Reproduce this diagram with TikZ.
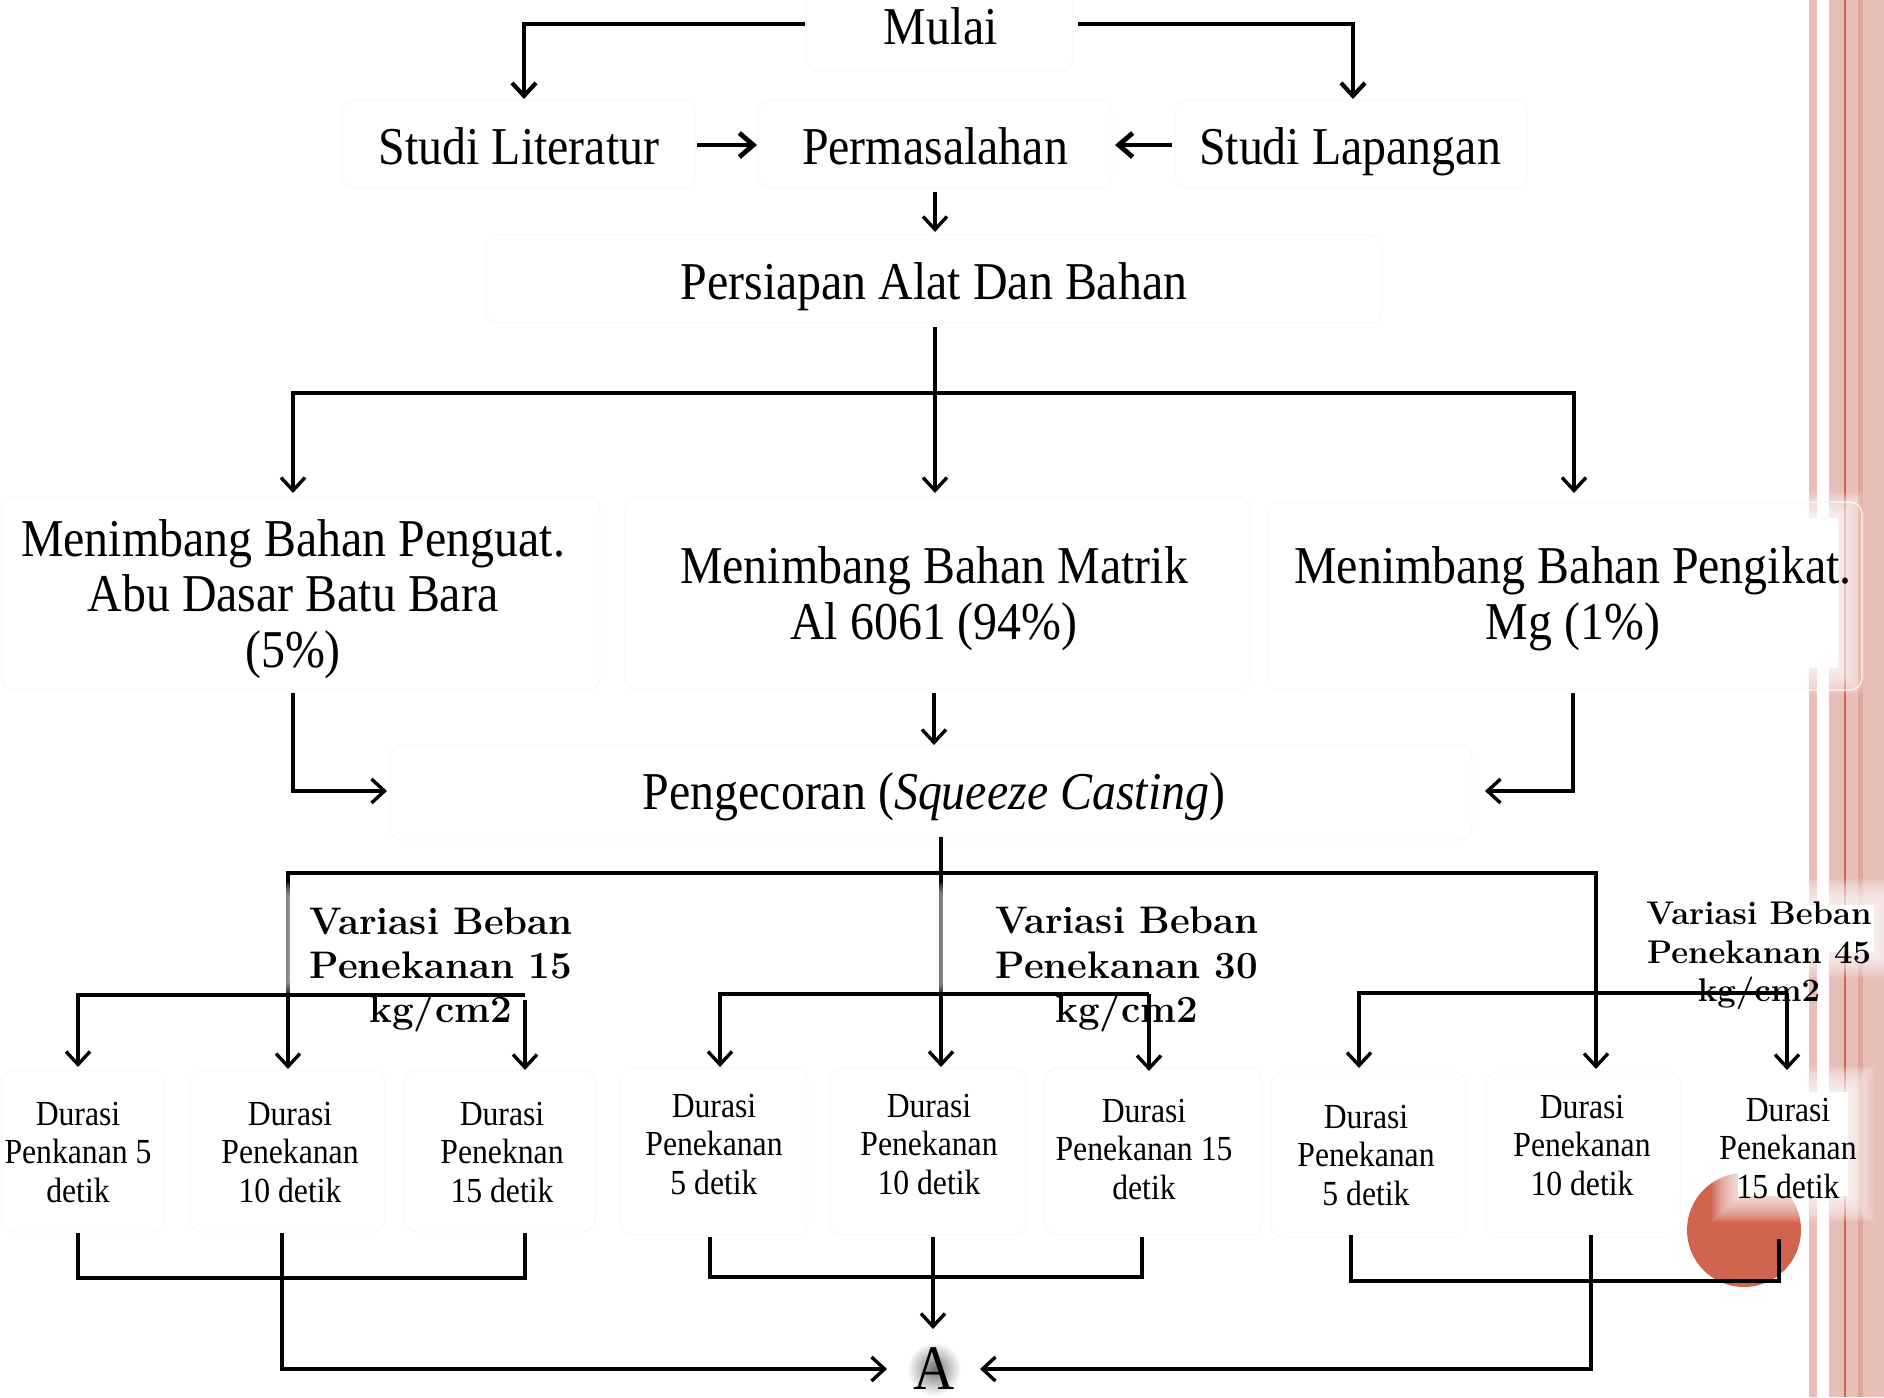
\documentclass[tikz,border=0pt]{standalone}
\usepackage{fontspec}
\newfontfamily\tnr[FakeStretch=0.9]{Liberation Serif}
\usetikzlibrary{arrows.meta}
\definecolor{stripe}{RGB}{231,190,184}
\definecolor{stripedark}{RGB}{221,166,156}
\definecolor{stripered}{RGB}{208,98,76}
\definecolor{ball}{RGB}{209,100,78}
\newcommand{\softglow}[4]{%
  \foreach \k in {26,24,...,2}{\fill[white,opacity=0.1] ({#1-\k},{#2-\k}) rectangle ({#3+\k},{#4+\k});}%
  \fill[white] (#1,#2) rectangle (#3,#4);}
\newcommand{\durlab}[6]{%
  \node[dur] (#1a) at ({#2},{#3}) {#4};
  \node[dur] (#1b) at ({#2},{#3+38.5}) {#5};
  \node[dur] (#1c) at ({#2},{#3+77}) {#6};}
\begin{document}
\begin{tikzpicture}[x=0.5pt,y=-0.5pt,
  txt/.style={anchor=base,inner sep=0pt,font=\tnr\fontsize{26.6}{30}\selectfont},
  dur/.style={anchor=base,inner sep=0pt,font=\tnr\fontsize{17.6}{20}\selectfont},
  vbig/.style={anchor=base,inner sep=0pt,font=\bfseries\fontsize{19.2}{22}\selectfont},
  vsmall/.style={anchor=base,inner sep=0pt,font=\bfseries\fontsize{16.4}{19}\selectfont},
  ln/.style={line width=1.7pt},
  ar/.style={line width=1.7pt,-{Straight Barb[length=6.5pt,width=12pt]}},
  arb/.style={line width=2.4pt,-{Straight Barb[length=7pt,width=12pt]}},
  fbox/.style={draw=black!2.5,line width=0.6pt,rounded corners=6pt}]
\useasboundingbox (0,0) rectangle (1884,1397);
\fill[white] (0,0) rectangle (1884,1397);
% decorative stripes
\fill[stripe] (1809,0) rectangle (1817,1397);
\fill[stripe] (1829,0) rectangle (1884,1397);
\fill[stripedark] (1858,0) rectangle (1863,1397);
\fill[stripered] (1843.5,0) rectangle (1846,1397);
% red ball
\fill[ball] (1744,1230) circle [radius=28.5pt];
% faint boxes
\draw[fbox] (806,-20) rectangle (1073,70);
\draw[fbox] (342,100) rectangle (695,188);
\draw[fbox] (758,100) rectangle (1112,188);
\draw[fbox] (1175,100) rectangle (1527,188);
\draw[fbox] (486,235) rectangle (1382,323);
\draw[fbox] (2,497) rectangle (600,690);
\draw[fbox] (625,497) rectangle (1250,690);
\draw[fbox] (1267,502) rectangle (1862,690);
\draw[fbox] (390,745) rectangle (1472,840);
\draw[fbox] (2,1070) rectangle (165,1232);
\draw[fbox] (190,1070) rectangle (385,1232);
\draw[fbox] (405,1070) rectangle (595,1232);
\draw[fbox] (620,1068) rectangle (808,1235);
\draw[fbox] (830,1068) rectangle (1026,1235);
\draw[fbox] (1045,1068) rectangle (1262,1235);
\draw[fbox] (1271,1072) rectangle (1466,1237);
\draw[fbox] (1486,1072) rectangle (1681,1237);
% A halo
\shade[inner color=black!55,outer color=white] (934,1369) circle [radius=13.5pt];

% coordinates
\coordinate (mL) at (805,24);
\coordinate (mR) at (1078,24);
\coordinate (litT) at (524,99);
\coordinate (lapT) at (1353,99);
\coordinate (litE) at (697,145);
\coordinate (permW) at (757,145);
\coordinate (lapW) at (1172,145);
\coordinate (permE) at (1115,145);
\coordinate (permS) at (935,192);
\coordinate (prsN) at (935,232);
\coordinate (prsS) at (935,327);
\coordinate (hub1) at (935,393);
\coordinate (mnlN) at (293,493);
\coordinate (mnmN) at (935,493);
\coordinate (mnrN) at (1574,493);
\coordinate (mnlS) at (293,693);
\coordinate (pengW) at (387,791);
\coordinate (mnmS) at (934,693);
\coordinate (pengN) at (934,745);
\coordinate (mnrS) at (1573,693);
\coordinate (pengE) at (1485,791);
\coordinate (pengS) at (941,837);
\coordinate (hub2) at (941,873);
\coordinate (g1N) at (288,1069);
\coordinate (g2N) at (941,1067);
\coordinate (g3N) at (1596,1069);

% upper connectors
\draw[ar,line width=2.1pt] (mL) -| (litT);
\draw[ar,line width=2.1pt] (mR) -| (lapT);
\draw[arb] (litE) -- (permW);
\draw[arb] (lapW) -- (permE);
\draw[ar] (permS) -- (prsN);
\draw[ar] (prsS) -- (mnmN);
\draw[ar] (hub1) -| (mnlN);
\draw[ar] (hub1) -| (mnrN);
\draw[ar] (mnlS) |- (pengW);
\draw[ar] (mnmS) -- (pengN);
\draw[ar] (mnrS) |- (pengE);
\draw[ar] (pengS) -- (g2N);
\draw[ar] (hub2) -| (g1N);
\draw[ar] (hub2) -| (g3N);

% text glows
\softglow{1290}{518}{1838}{668}
\softglow{300}{908}{585}{970}
\softglow{955}{908}{1268}{970}
\softglow{1652}{905}{1874}{952}
\softglow{1738}{1092}{1848}{1196}

% group connectors
\coordinate (g1R) at (525,995);
\coordinate (g1Rt) at (525,1000);
\coordinate (g1aN) at (78,1067);
\coordinate (g1cN) at (525,1070);
\coordinate (g2R) at (1149,994);
\coordinate (g2aN) at (720,1067);
\coordinate (g2cN) at (1149,1071);
\coordinate (g3R) at (1787,993);
\coordinate (g3aN) at (1359,1068);
\coordinate (g3cN) at (1787,1070);
\draw[ar] (g1R) -| (g1aN);
\draw[ar] (g1Rt) -- (g1cN);
\draw[ar] (g2R) -| (g2aN);
\draw[ar] (g2R) -- (g2cN);
\draw[ar] (g3R) -| (g3aN);
\draw[ar] (g3R) -- (g3cN);

% bottom brackets
\coordinate (b1a) at (78,1233);
\coordinate (b1l) at (78,1278);
\coordinate (b1r) at (525,1278);
\coordinate (b1c) at (525,1233);
\coordinate (b1m) at (282,1233);
\coordinate (b2a) at (710,1237);
\coordinate (b2l) at (710,1277);
\coordinate (b2r) at (1142,1277);
\coordinate (b2c) at (1142,1237);
\coordinate (b2m) at (933,1237);
\coordinate (b3a) at (1351,1235);
\coordinate (b3l) at (1351,1281);
\coordinate (b3r) at (1779,1281);
\coordinate (b3c) at (1779,1239);
\coordinate (b3m) at (1591,1235);
\coordinate (aW) at (887,1369);
\coordinate (aN) at (933,1329);
\coordinate (aE) at (980,1369);
\draw[ln] (b1a) -- (b1l) -- (b1r) -- (b1c);
\draw[ln] (b2a) -- (b2l) -- (b2r) -- (b2c);
\draw[ln] (b3a) -- (b3l) -- (b3r) -- (b3c);
\draw[ar] (b1m) |- (aW);
\draw[ar] (b2m) -- (aN);
\draw[ar] (b3m) |- (aE);

% texts
\node[txt] (mulai) at (941,44) {Mulai};
\node[txt] (lit) at (519,164) {Studi Literatur};
\node[txt] (perm) at (935,164) {Permasalahan};
\node[txt] (lap) at (1350,164) {Studi Lapangan};
\node[txt] (prs) at (934,299) {Persiapan Alat Dan Bahan};
\node[txt] (mnl1) at (293,556) {Menimbang Bahan Penguat.};
\node[txt] (mnl2) at (293,611) {Abu Dasar Batu Bara};
\node[txt] (mnl3) at (293,667) {(5\%)};
\node[txt] (mnm1) at (934,583) {Menimbang Bahan Matrik};
\node[txt] (mnm2) at (934,639) {Al 6061 (94\%)};
\node[txt] (mnr1) at (1573,583) {Menimbang Bahan Pengikat.};
\node[txt] (mnr2) at (1573,639) {Mg (1\%)};
\node[txt] (peng) at (934,809) {Pengecoran ({\itshape Squeeze Casting})};

\node[vbig] (v1a) at (441,934) {Variasi Beban};
\node[vbig] (v1b) at (441,978) {Penekanan 15};
\node[vbig] (v1c) at (441,1022) {kg/cm2};
\node[vbig] (v2a) at (1127,933) {Variasi Beban};
\node[vbig] (v2b) at (1127,978) {Penekanan 30};
\node[vbig] (v2c) at (1127,1022) {kg/cm2};
\node[vsmall] (v3a) at (1759,924) {Variasi Beban};
\node[vsmall] (v3b) at (1759,963) {Penekanan 45};
\node[vsmall] (v3c) at (1759,1001) {kg/cm2};

\durlab{d11}{78}{1125}{Durasi}{Penkanan 5}{detik}
\durlab{d12}{290}{1125}{Durasi}{Penekanan}{10 detik}
\durlab{d13}{502}{1125}{Durasi}{Peneknan}{15 detik}
\durlab{d21}{714}{1117}{Durasi}{Penekanan}{5 detik}
\durlab{d22}{929}{1117}{Durasi}{Penekanan}{10 detik}
\durlab{d23}{1144}{1122}{Durasi}{Penekanan 15}{detik}
\durlab{d31}{1366}{1128}{Durasi}{Penekanan}{5 detik}
\durlab{d32}{1582}{1118}{Durasi}{Penekanan}{10 detik}
\durlab{d33}{1788}{1121}{Durasi}{Penekanan}{15 detik}

\node[anchor=base,inner sep=0pt,font=\tnr\fontsize{31.7}{34}\selectfont] (A) at (934,1389) {A};
\end{tikzpicture}
\end{document}
